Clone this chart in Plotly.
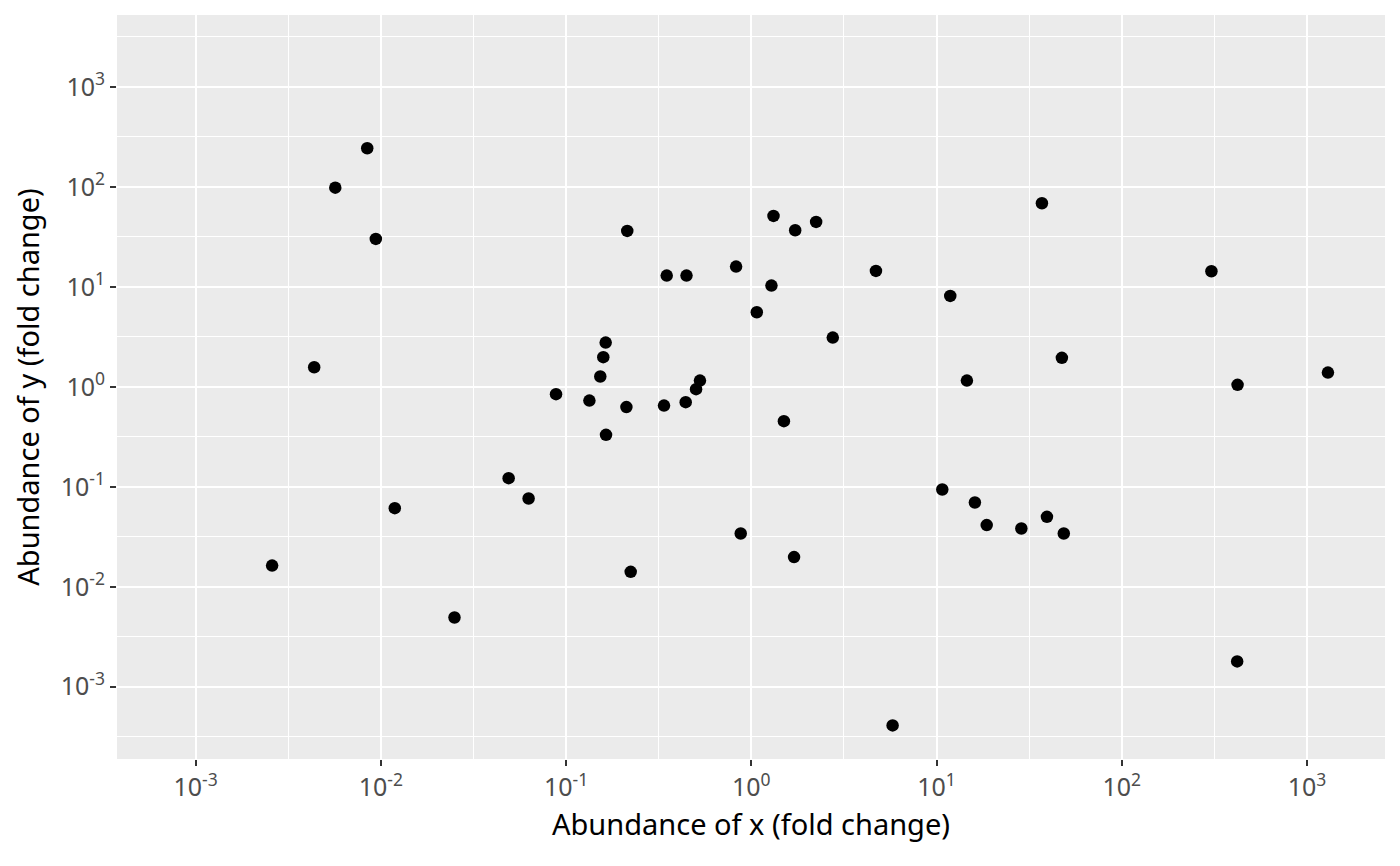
import plotly.graph_objects as go

# valores (escala log nos dois eixos)
x_vals = [0.00845, 0.00568, 0.0094, 0.00437, 0.0119, 0.00259, 0.025,
          0.214, 0.3496, 0.447, 0.828, 1.318, 1.726, 2.239, 1.285, 1.071,
          4.71, 2.754, 0.1637, 0.1589, 0.1531, 0.0883, 0.1337, 0.2118,
          0.338, 0.4426, 0.5035, 0.5284, 1.50, 0.1644,
          37.07, 11.86, 304.8, 47.5, 14.59, 421.7, 1297, 10.74, 16.11,
          18.66, 28.71, 39.45, 48.64,
          0.049, 0.0628, 0.2234, 0.877, 1.702, 5.794, 419.8]
y_vals = [244, 98.4, 30.2, 1.57, 0.0612, 0.0163, 0.00493,
          36.3, 12.97, 12.97, 15.96, 51.3, 36.9, 44.7, 10.3, 5.58,
          14.45, 3.11, 2.77, 1.98, 1.268, 0.845, 0.729, 0.627,
          0.650, 0.703, 0.948, 1.156, 0.454, 0.331,
          68.7, 8.13, 14.35, 1.95, 1.156, 1.047, 1.39, 0.094, 0.0697,
          0.0414, 0.0383, 0.0501, 0.0341,
          0.122, 0.0764, 0.0141, 0.0341, 0.0198, 0.00041, 0.00179]

major_vals = [1e-3, 1e-2, 1e-1, 1, 10, 100, 1000]
major_text = ["10<sup>-3</sup>", "10<sup>-2</sup>", "10<sup>-1</sup>", "10<sup>0</sup>",
              "10<sup>1</sup>", "10<sup>2</sup>", "10<sup>3</sup>"]
minor_vals = [10 ** (e + 0.5) for e in range(-4, 4)]

fig = go.Figure(go.Scatter(
    x=x_vals, y=y_vals, mode="markers",
    marker=dict(color="black", size=12.5),
    hoverinfo="x+y",
))

eixo = dict(
    type="log", automargin=False,
    tickmode="array", tickvals=major_vals, ticktext=major_text,
    showgrid=True, gridcolor="white", gridwidth=2,
    ticks="outside", ticklen=6, tickwidth=2, tickcolor="#333333",
    tickfont=dict(family="Noto Sans", size=25, color="#4D4D4D"),
    zeroline=False, showline=False,
    minor=dict(tickmode="array", tickvals=minor_vals, showgrid=True,
               gridcolor="white", gridwidth=1, ticks=""),
)

fig.update_xaxes(**eixo, range=[-3.424, 3.421],
                 title=dict(text="Abundance of x (fold change)", standoff=12,
                            font=dict(family="Noto Sans", size=29, color="black")))
fig.update_yaxes(**eixo, range=[-3.723, 3.72],
                 title=dict(text="Abundance of y (fold change)", standoff=12,
                            font=dict(family="Noto Sans", size=29, color="black")))

# a página tem 8px de margem no body, por isso as margens estão compensadas
fig.update_layout(
    width=1400, height=866,
    margin=dict(l=109, r=23, t=7, b=115),
    plot_bgcolor="#EBEBEB", paper_bgcolor="white",
    showlegend=False,
    font=dict(family="Noto Sans"),
)

fig.write_html("out.html")
